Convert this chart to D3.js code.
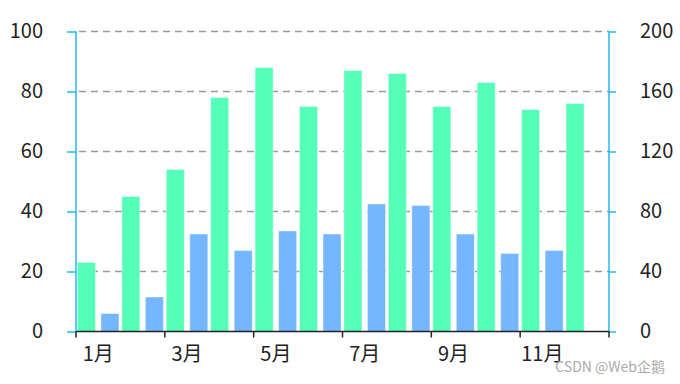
<!DOCTYPE html>
<html>
<head>
<meta charset="utf-8">
<script src="https://cdn.jsdelivr.net/npm/d3@7"></script>
<style>
  body { margin: 0; background: #fff; }
  text { font-family: "Microsoft YaHei", "Noto Sans CJK SC", sans-serif; }
</style>
</head>
<body>
<div id="chart"></div>
<script>
const months = ["1月", "2月", "3月", "4月", "5月", "6月", "7月", "8月", "9月", "10月", "11月", "12月"];
// green series, left axis (0-100)
const greenValues = [23, 45, 54, 78, 88, 75, 87, 86, 75, 83, 74, 76];
// blue series, right axis (0-200); no bar for December
const blueValues = [12, 23, 65, 54, 67, 65, 85, 84, 65, 52, 54, null];
const leftTicks = [0, 20, 40, 60, 80, 100];
const rightTicks = [0, 40, 80, 120, 160, 200];

const W = 680, H = 384;
const margin = { top: 31.5, right: 71, bottom: 52.5, left: 76 };
const width = W - margin.left - margin.right;
const height = H - margin.top - margin.bottom;

const svg = d3.select("#chart")
  .append("svg")
  .attr("width", W)
  .attr("height", H);

const g = svg.append("g")
  .attr("transform", `translate(${margin.left},${margin.top})`);

// Scales
const x0 = d3.scaleBand()
  .domain(months)
  .range([0, width])
  .paddingInner(0.065)
  .paddingOuter(0.0325);

const x1 = d3.scaleBand()
  .domain(["green", "blue"])
  .range([0, x0.bandwidth()])
  .paddingInner(0.234);

const yLeft = d3.scaleLinear().domain([0, 100]).range([height, 0]);
const yRight = d3.scaleLinear().domain([0, 200]).range([height, 0]);

// Grid lines
g.append("g")
  .selectAll("line")
  .data(leftTicks.filter(d => d > 0))
  .enter()
  .append("line")
  .attr("x1", 0)
  .attr("x2", width)
  .attr("y1", d => yLeft(d))
  .attr("y2", d => yLeft(d))
  .attr("stroke", "#999")
  .attr("stroke-width", 1.5)
  .attr("stroke-dasharray", "7,5")
  .attr("stroke-dashoffset", -3);

// Bars
g.selectAll(".bar-green")
  .data(months.map((m, i) => ({ month: m, value: greenValues[i] })))
  .enter()
  .append("rect")
  .attr("class", "bar-green")
  .attr("x", d => x0(d.month) + x1("green"))
  .attr("y", d => yLeft(d.value))
  .attr("width", x1.bandwidth())
  .attr("height", d => height - yLeft(d.value))
  .attr("fill", "#55ffb8")
  .attr("stroke", "rgba(255,255,255,0.4)")
  .attr("stroke-width", 1);

g.selectAll(".bar-blue")
  .data(months.map((m, i) => ({ month: m, value: blueValues[i] })).filter(d => d.value != null))
  .enter()
  .append("rect")
  .attr("class", "bar-blue")
  .attr("x", d => x0(d.month) + x1("blue"))
  .attr("y", d => yRight(d.value))
  .attr("width", x1.bandwidth())
  .attr("height", d => height - yRight(d.value))
  .attr("fill", "#74b6ff")
  .attr("stroke", "rgba(255,255,255,0.4)")
  .attr("stroke-width", 1);

const axisColor = "#22b8ec";

// Left axis
const leftAxis = g.append("g")
  .call(d3.axisLeft(yLeft).tickValues(leftTicks).tickSize(9).tickPadding(24));
leftAxis.select(".domain").attr("stroke", axisColor).attr("stroke-width", 1.5)
  .attr("d", `M0,${height}V0`);
leftAxis.selectAll(".tick line").attr("stroke", axisColor).attr("stroke-width", 1.5);
leftAxis.selectAll(".tick text")
  .attr("fill", "#222")
  .style("font-size", "20px");

// Right axis
const rightAxis = g.append("g")
  .attr("transform", `translate(${width},0)`)
  .call(d3.axisRight(yRight).tickValues(rightTicks).tickSize(7).tickPadding(24));
rightAxis.select(".domain").attr("stroke", axisColor).attr("stroke-width", 1.5)
  .attr("d", `M0,${height}V0`);
rightAxis.selectAll(".tick line").attr("stroke", axisColor).attr("stroke-width", 1.5);
rightAxis.selectAll(".tick text")
  .attr("fill", "#222")
  .style("font-size", "20px");

// Bottom axis: line, ticks at every other category boundary, labels every other month
const step = x0.step();
const bottom = g.append("g").attr("transform", `translate(0,${height})`);
bottom.append("line")
  .attr("x1", 0).attr("x2", width)
  .attr("stroke", "#222").attr("stroke-width", 1.5);
bottom.selectAll(".xtick")
  .data(d3.range(0, months.length + 1, 2))
  .enter()
  .append("line")
  .attr("class", "xtick")
  .attr("x1", i => i * step).attr("x2", i => i * step)
  .attr("y1", 0).attr("y2", 6)
  .attr("stroke", "#222").attr("stroke-width", 1.5);
bottom.selectAll(".xlabel")
  .data(months.filter((m, i) => i % 2 === 0))
  .enter()
  .append("text")
  .attr("class", "xlabel")
  .attr("x", d => x0(d) + x0.bandwidth() / 2)
  .attr("y", 29)
  .attr("text-anchor", "middle")
  .attr("fill", "#222")
  .style("font-size", "20px")
  .text(d => d);

// Watermark
svg.append("text")
  .attr("x", 665)
  .attr("y", 372)
  .attr("text-anchor", "end")
  .attr("fill", "#aaa")
  .style("font-size", "14px")
  .text("CSDN @Web企鹅");
</script>
</body>
</html>
